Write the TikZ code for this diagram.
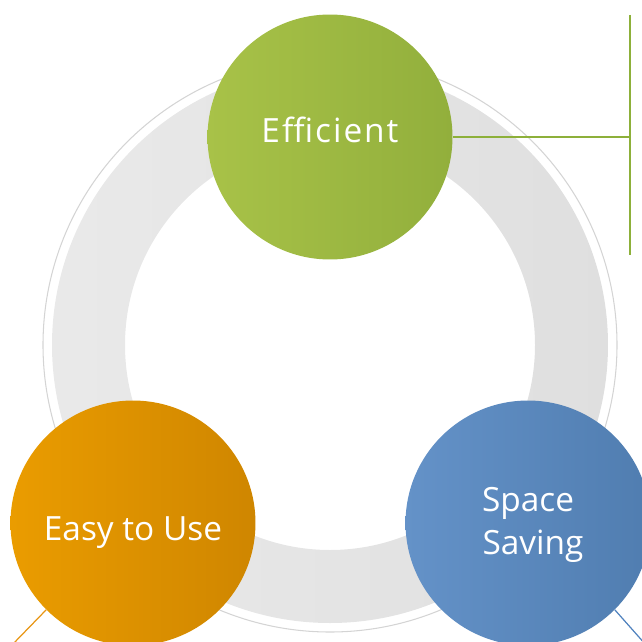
\documentclass[tikz,border=0pt]{standalone}
\usepackage{fontspec}
\setmainfont{Open Sans}
\usepackage{tikz}
\usetikzlibrary{calc}

\definecolor{effleft}{RGB}{168,194,72}
\definecolor{effright}{RGB}{146,175,60}
\definecolor{effline}{RGB}{141,176,58}
\definecolor{useleft}{RGB}{234,156,0}
\definecolor{useright}{RGB}{207,134,0}
\definecolor{useline}{RGB}{232,150,20}
\definecolor{saveleft}{RGB}{100,146,200}
\definecolor{saveright}{RGB}{80,125,176}
\definecolor{saveline}{RGB}{80,130,190}
\definecolor{ringedge}{RGB}{212,212,212}

\tikzset{
  bubble/.style={circle, minimum size=4.9cm, inner sep=0pt, text=white,
    align=center, font=\fontsize{19}{25}\selectfont},
  ringband/.style={left color=gray!17, right color=gray!25},
  leader/.style={line width=0.7pt}
}

\begin{document}
\begin{tikzpicture}[x=0.02cm,y=-0.02cm]
				\useasboundingbox (0,0) rectangle (642,642);
				\clip (0,0) rectangle (642,642);
				% ring
				\coordinate (hub) at (330,345);
				\draw[color=ringedge, line width=0.6pt] (hub) circle (287);
				\shade[ringband, even odd rule] (hub) circle (278) (hub) circle (205);
				% bubbles
				\node[bubble, left color=effleft, right color=effright, text height=5.7pt, text depth=0pt] (eff) at (330,137) {\addfontfeature{LetterSpace=6}Efficient};
				\node[bubble, left color=useleft, right color=useright, text height=19.4pt, text depth=0pt] (use) at (133,523) {Easy to Use};
				\node[bubble, left color=saveleft, right color=saveright, text height=36.4pt, text depth=0pt] (save) at (528,523) {Space\\\hspace*{0.3em}Saving};
				% leaders
				\coordinate (efftop) at (630,15);
				\coordinate (effbot) at (630,255);
				\coordinate (usefoot) at (12,645);
				\coordinate (savefoot) at (646,645);
				\draw[leader, effline] (eff.east) -- (eff.east -| efftop);
				\draw[leader, effline] (efftop) -- (effbot);
				\draw[leader, useline] (use.225) -- (usefoot);
				\draw[leader, saveline] (save.-45) -- (savefoot);
			\end{tikzpicture}
\end{document}
